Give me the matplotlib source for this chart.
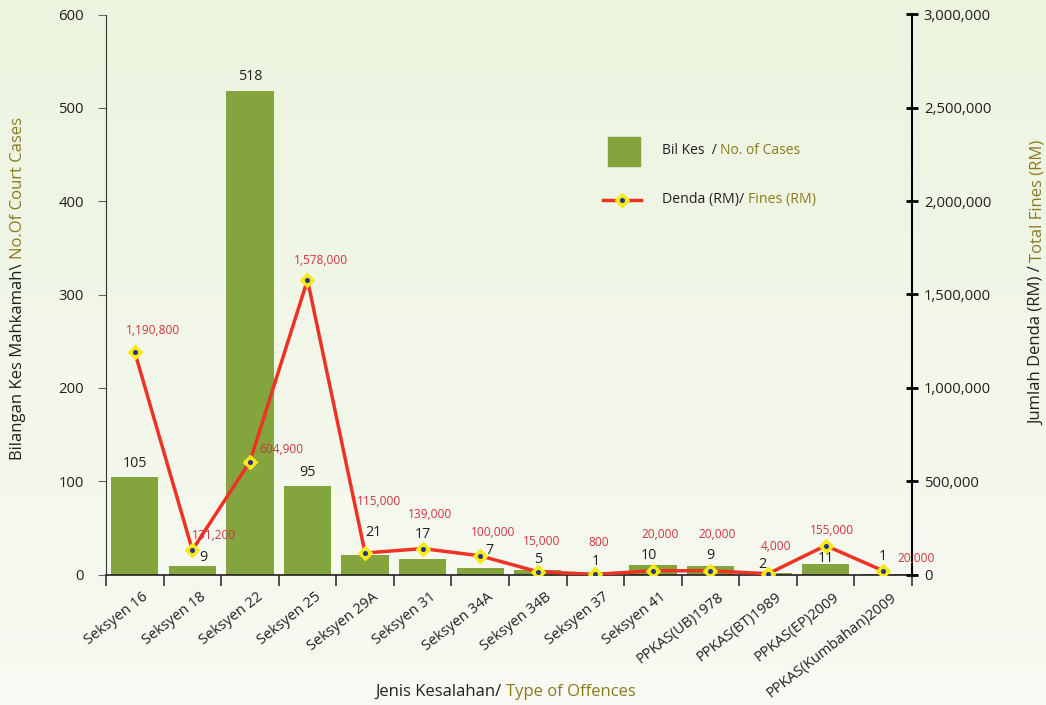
import numpy as np
import matplotlib.pyplot as plt
from matplotlib import transforms
from matplotlib.patches import Rectangle
from matplotlib.lines import Line2D

plt.rcParams['font.family'] = ['Open Sans', 'DejaVu Sans']

# data
offences = ['Seksyen 16', 'Seksyen 18', 'Seksyen 22', 'Seksyen 25', 'Seksyen 29A',
            'Seksyen 31', 'Seksyen 34A', 'Seksyen 34B', 'Seksyen 37', 'Seksyen 41',
            'PPKAS(UB)1978', 'PPKAS(BT)1989', 'PPKAS(EP)2009', 'PPKAS(Kumbahan)2009']
cases = [105, 9, 518, 95, 21, 17, 7, 5, 1, 10, 9, 2, 11, 1]
fines = [1190800, 131200, 604900, 1578000, 115000, 139000, 100000,
         15000, 800, 20000, 20000, 4000, 155000, 20000]

# label offsets (pixels) - placement only
case_off = [(0, 13), (11, 9), (0, 15), (0, 13), (8, 22), (0, 24), (9, 17),
            (0, 10), (0, 12), (-4, 10), (0, 11), (-6, 8), (0, 6), (0, 17)]
fine_off = [(18, 22), (22, 15), (32, 12), (13, 19), (14, 52), (7, 34), (13, 23),
            (4, 30), (3, 32), (7, 36), (7, 36), (8, 27), (6, 15), (33, 12)]

BLACK = '#231f20'
OLIVE = '#8b7a1e'
GREEN = '#84a53d'
RED = '#ee3224'
LRED = '#d1343f'

W, H = 1046, 705
fig = plt.figure(figsize=(W / 100, H / 100), dpi=100)

# background gradient
bg = fig.add_axes([0, 0, 1, 1], zorder=-10)
grad = np.linspace(0, 1, 256).reshape(-1, 1)
c_top = np.array([0.925, 0.957, 0.875])
c_bot = np.array([0.973, 0.980, 0.953])
img = c_top[None, None, :] * (1 - grad[..., None]) + c_bot[None, None, :] * grad[..., None]
bg.imshow(img, aspect='auto', extent=[0, 1, 0, 1])
bg.axis('off')

ax = fig.add_axes([106 / W, 1 - 574.5 / H, 806 / W, 560 / H])
ax.set_facecolor('none')
x = np.arange(len(offences))
ax.bar(x, cases, width=0.82, color=GREEN, zorder=2)
ax.set_xlim(-0.5, len(offences) - 0.5)
ax.set_ylim(0, 600)
ax.set_yticks(range(0, 601, 100))
for i, v in enumerate(cases):
    ax.annotate(str(v), (x[i], v), xytext=case_off[i], textcoords='offset pixels',
                ha='center', va='center', fontsize=10.3, color=BLACK, zorder=1)

ax.spines['top'].set_visible(False)
ax.spines['right'].set_visible(False)
ax.spines['left'].set_color('#333333')
ax.spines['bottom'].set_color(BLACK)
ax.spines['bottom'].set_linewidth(1.2)
ax.tick_params(axis='y', direction='out', length=6, color='#666666',
               labelsize=10.7, labelcolor=BLACK, pad=10)
ax.set_xticks(np.arange(-0.5, len(offences)), labels=[])
ax.tick_params(axis='x', which='major', direction='out', length=8, width=1.2, color='#333333')
ax.set_xticks(x, labels=offences, minor=True)
ax.tick_params(axis='x', which='minor', length=0, pad=11, labelsize=10.5, labelcolor=BLACK)
shift = transforms.ScaledTranslation(7 / 100, 0, fig.dpi_scale_trans)
for lab in ax.get_xticklabels(minor=True):
    lab.set_rotation(38)
    lab.set_ha('right')
    lab.set_rotation_mode('anchor')
    lab.set_transform(lab.get_transform() + shift)

ax2 = ax.twinx()
ax2.set_ylim(0, 3000000)
ax2.set_yticks(range(0, 3000001, 500000))
ax2.set_yticklabels([f'{v:,}' for v in range(0, 3000001, 500000)])
ax2.plot(x, fines, color=RED, lw=2.5, zorder=3)
ax2.plot(x, fines, ls='none', marker='D', ms=7.5, mfc='#f5ea14', mec='#f5ea14', zorder=4)
ax2.plot(x, fines, ls='none', marker='o', ms=2.6, mfc='#27348b', mec='#27348b', zorder=5)
for i, v in enumerate(fines):
    ax2.annotate(f'{v:,}', (x[i], v), xytext=fine_off[i], textcoords='offset pixels',
                 ha='center', va='center', fontsize=8.6, color=LRED, zorder=6)
for s in ['top', 'left', 'bottom']:
    ax2.spines[s].set_visible(False)
ax2.spines['right'].set_color('black')
ax2.spines['right'].set_linewidth(1.5)
ax2.tick_params(axis='y', direction='inout', length=9, width=2, color='black',
                labelsize=10.7, labelcolor=BLACK, pad=4)

# legend drawn by hand
fig.patches.append(Rectangle((608 / W, 1 - 166 / H), 32 / W, 29 / H,
                             transform=fig.transFigure, color=GREEN, figure=fig))
fig.add_artist(Line2D([603 / W, 641 / W], [1 - 200 / H] * 2, color=RED, lw=2.5))
fig.add_artist(Line2D([622 / W], [1 - 200 / H], marker='D', ms=7.5, mfc='#f5ea14', mec='#f5ea14'))
fig.add_artist(Line2D([622 / W], [1 - 200 / H], marker='o', ms=2.6, mfc='#27348b', mec='#27348b'))

renderer = fig.canvas.get_renderer()


def two_tone(px, py, a, b, rot=0, size=10):
    if rot == 0:
        t1 = fig.text(px / W, 1 - py / H, a, color=BLACK, fontsize=size, ha='left', va='center')
        bb = t1.get_window_extent(renderer)
        fig.text(bb.x1 / W, 1 - py / H, b, color=OLIVE, fontsize=size, ha='left', va='center')
    else:
        t1 = fig.text(px / W, 1 - py / H, a, color=BLACK, fontsize=size, rotation=90,
                      ha='center', va='bottom')
        bb = t1.get_window_extent(renderer)
        fig.text(px / W, bb.y1 / H, b, color=OLIVE, fontsize=size, rotation=90,
                 ha='center', va='bottom')


two_tone(662, 151, 'Bil Kes  / ', 'No. of Cases', size=10)
two_tone(662, 200, 'Denda (RM)/ ', 'Fines (RM)', size=10.2)
two_tone(375, 692, 'Jenis Kesalahan/ ', 'Type of Offences', size=12)
two_tone(18, 460, 'Bilangan Kes Mahkamah\\ ', 'No.Of Court Cases', rot=90, size=12)
two_tone(1037, 425, 'Jumlah Denda (RM) / ', 'Total Fines (RM)', rot=90, size=12)

fig.savefig('out.png', dpi=100)
